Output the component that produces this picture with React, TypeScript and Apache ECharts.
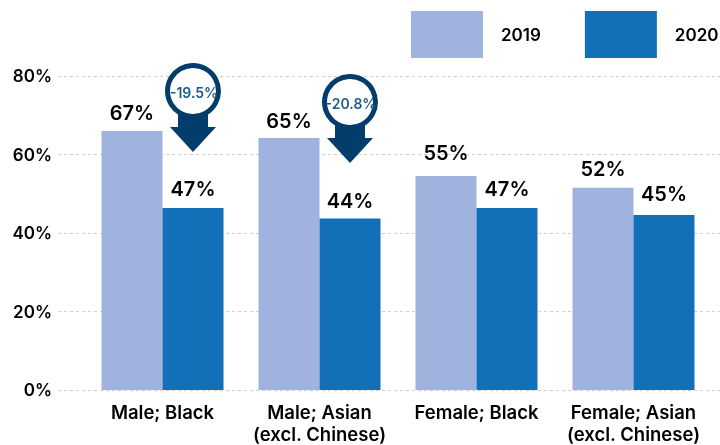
import React, { useEffect, useRef } from "react";
import * as echarts from "echarts";

const categories = ["Male; Black", "Male; Asian\n(excl. Chinese)", "Female; Black", "Female; Asian\n(excl. Chinese)"];
const values2019 = [66, 64.2, 54.5, 51.5];
const values2020 = [46.4, 43.7, 46.4, 44.6];
const labels2019 = ["67%", "65%", "55%", "52%"];
const labels2020 = ["47%", "44%", "47%", "45%"];
const lift2019 = [1, 0, 6, 2];
const lift2020 = [2, 0, 2, 4];
const yTicks = [0, 20, 40, 60, 80];
const callouts = [
  { text: "-19.5%", cx: 193, cy: 91 },
  { text: "-20.8%", cx: 350, cy: 102 },
];

const FONT = "Inter";
const DARK = "#033d6b";

function callout(c: { text: string; cx: number; cy: number }) {
  return [
    {
      type: "polygon",
      z: 10,
      shape: {
        points: [
          [c.cx - 15, c.cy + 20],
          [c.cx + 15, c.cy + 20],
          [c.cx + 15, c.cy + 36],
          [c.cx + 23, c.cy + 36],
          [c.cx, c.cy + 61],
          [c.cx - 23, c.cy + 36],
          [c.cx - 15, c.cy + 36],
        ],
      },
      style: { fill: DARK },
    },
    {
      type: "circle",
      z: 11,
      shape: { cx: c.cx, cy: c.cy, r: 25.5 },
      style: { fill: "#fff", stroke: DARK, lineWidth: 5 },
    },
    {
      type: "text",
      z: 12,
      x: c.cx + 1,
      y: c.cy + 1,
      style: {
        text: c.text,
        fill: "#1c5a8c",
        font: `600 14px ${FONT}`,
        align: "center",
        verticalAlign: "middle",
      },
    },
  ];
}

export default function App() {
  const ref = useRef<HTMLDivElement>(null);
  useEffect(() => {
    const chart = echarts.init(ref.current!, undefined, { renderer: "svg" });
    const barData = (values: number[], lifts: number[]) =>
      values.map((value, i) => ({ value, label: { offset: [0, -lifts[i]] } }));
    const barLabel = (labels: string[]) => ({
      show: true,
      position: "top" as const,
      distance: 7,
      color: "#000",
      fontFamily: FONT,
      fontSize: 20,
      fontWeight: 600,
      formatter: (p: any) => labels[p.dataIndex],
    });
    chart.setOption({
      animation: false,
      legend: {
        left: 411,
        top: 11,
        padding: 0,
        itemWidth: 72,
        itemHeight: 47,
        itemGap: 44,
        icon: "rect",
        data: ["2019", "2020"],
        textStyle: {
          color: "#000",
          fontFamily: FONT,
          fontSize: 17,
          fontWeight: 600,
          padding: [0, 0, 0, 13],
        },
      },
      grid: [
        { left: 58, right: 0, top: 76, height: 314 },
        { left: 84, width: 628, top: 76, height: 314 },
      ],
      xAxis: [
        { type: "category", gridIndex: 0, data: categories, show: false },
        {
          type: "category",
          gridIndex: 1,
          data: categories,
          axisLine: { show: false },
          axisTick: { show: false },
          axisLabel: {
            color: "#000",
            fontFamily: FONT,
            fontSize: 18.5,
            fontWeight: 600,
            lineHeight: 22,
            margin: 11,
            interval: 0,
          },
        },
      ],
      yAxis: [
        {
          type: "value",
          gridIndex: 0,
          min: 0,
          max: 80,
          interval: 20,
          axisLine: { show: false },
          axisTick: { show: false },
          axisLabel: {
            color: "#000",
            fontFamily: FONT,
            fontSize: 17,
            fontWeight: 600,
            margin: 6,
            formatter: (v: number) => (yTicks.includes(v) ? `${v}%` : ""),
          },
          splitLine: { show: true, lineStyle: { color: "#cfcfcf", type: [3, 3], width: 1 } },
        },
        { type: "value", gridIndex: 1, min: 0, max: 80, interval: 20, show: false },
      ],
      series: [
        {
          name: "2019",
          type: "bar",
          xAxisIndex: 1,
          yAxisIndex: 1,
          data: barData(values2019, lift2019),
          barWidth: 61,
          barGap: "0%",
          itemStyle: { color: "#a0b3de" },
          label: barLabel(labels2019),
        },
        {
          name: "2020",
          type: "bar",
          xAxisIndex: 1,
          yAxisIndex: 1,
          data: barData(values2020, lift2020),
          barWidth: 61,
          barGap: "0%",
          itemStyle: { color: "#1170b8" },
          label: barLabel(labels2020),
        },
      ],
      graphic: callouts.flatMap(callout),
    });
    return () => chart.dispose();
  }, []);
  return <div ref={ref} style={{ position: "fixed", left: 0, top: 0, width: 720, height: 445 }} />;
}
